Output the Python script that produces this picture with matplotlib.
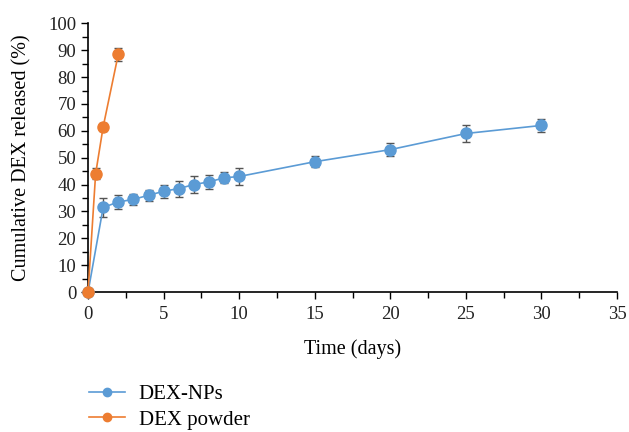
import matplotlib.pyplot as plt
from matplotlib.lines import Line2D
from matplotlib.ticker import MultipleLocator

# DEX-NPs release
np_days = [0, 1, 2, 3, 4, 5, 6, 7, 8, 9, 10, 15, 20, 25, 30]
np_release = [0, 31.5, 33.5, 34.5, 36, 37.5, 38.5, 40, 41, 42.5, 43, 48.5, 53, 59, 62]
np_err = [0, 3.5, 2.5, 2, 2, 2.5, 3, 3, 2.5, 2, 3, 2, 2.5, 3, 2.5]

# DEX powder release
powder_days = [0, 0.5, 1, 2]
powder_release = [0, 44, 61.5, 88.5]
powder_err = [0, 2, 1.5, 2.5]

blue = "#5b9bd5"
orange = "#ed7d31"

plt.rcParams["font.family"] = ["Liberation Serif", "DejaVu Serif"]

fig = plt.figure(figsize=(6.29, 4.32), dpi=100)
ax = fig.add_axes([0.14, 0.324, 0.841, 0.622])

ax.errorbar(np_days, np_release, yerr=np_err, color=blue, marker="o", ms=8,
            lw=1.2, ecolor="#555555", elinewidth=1, capsize=3, zorder=3)
ax.errorbar(powder_days, powder_release, yerr=powder_err, color=orange, marker="o", ms=8,
            lw=1.2, ecolor="#555555", elinewidth=1, capsize=3, zorder=3)

ax.set_xlim(0, 35)
ax.set_ylim(0, 100)
ax.xaxis.set_major_locator(MultipleLocator(5))
ax.xaxis.set_minor_locator(MultipleLocator(2.5))
ax.yaxis.set_major_locator(MultipleLocator(10))
ax.yaxis.set_minor_locator(MultipleLocator(5))
ax.tick_params(which="both", direction="out", labelsize=13.5, width=1)
ax.tick_params(which="major", length=5)
ax.tick_params(which="minor", length=4)
ax.tick_params(axis="x", pad=5)
for side in ["top", "right"]:
    ax.spines[side].set_visible(False)
for side in ["left", "bottom"]:
    ax.spines[side].set_linewidth(1.2)
for art in ax.get_children():
    art.set_clip_on(False)

ax.set_xlabel("Time (days)", fontsize=14.5, labelpad=12)
ax.set_ylabel("Cumulative DEX released (%)", fontsize=14.5, labelpad=12)
for lbl in ax.get_xticklabels() + ax.get_yticklabels():
    lbl.set_color("#222222")

handles = [
    Line2D([], [], color=blue, marker="o", ms=6, lw=1.2),
    Line2D([], [], color=orange, marker="o", ms=6, lw=1.2),
]
fig.legend(handles, ["DEX-NPs", "DEX powder"], loc="lower left",
           bbox_to_anchor=(0.112, -0.038), frameon=False, fontsize=15,
           handlelength=1.7, labelspacing=0.3, handletextpad=0.67)

fig.savefig("out.png", dpi=100)
